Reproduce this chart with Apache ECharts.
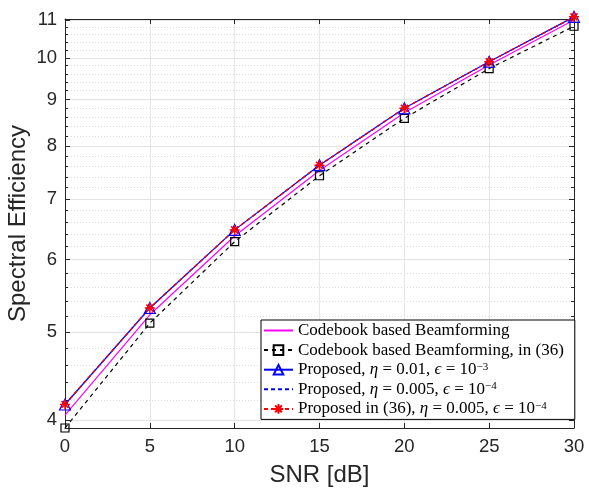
<!DOCTYPE html>
<html>
<head>
<meta charset="utf-8">
<script src="https://cdn.jsdelivr.net/npm/echarts@6/dist/echarts.min.js"></script>
<style>html,body{margin:0;padding:0;background:#fff}#c{width:589px;height:489px}</style>
</head>
<body>
<div id="c"></div>
<script>
const snr = [0, 5, 10, 15, 20, 25, 30];
const codebook = [4.05, 5.22, 6.37, 7.52, 8.70, 9.82, 11.00];
const codebook36 = [3.92, 5.11, 6.28, 7.42, 8.58, 9.73, 10.83];
const proposed1 = [4.16, 5.31, 6.47, 7.62, 8.80, 9.90, 11.09];
const proposed2 = [4.16, 5.31, 6.47, 7.62, 8.80, 9.90, 11.08];
const proposed36 = [4.16, 5.31, 6.47, 7.62, 8.80, 9.90, 11.09];
const xTicks = [0, 5, 10, 15, 20, 25, 30];
const yMajor = [4, 5, 6, 7, 8, 9, 10, 11];
const yMinor = [4.2, 4.4, 4.6, 4.8, 5.2, 5.4, 5.6, 5.8, 6.2, 6.4, 6.6, 6.8, 7.2, 7.4, 7.6, 7.8,
  8.2, 8.4, 8.6, 8.8, 9.2, 9.4, 9.6, 9.8, 10.2, 10.4, 10.6, 10.8];
const names = ['Codebook based Beamforming', 'Codebook based Beamforming, in (36)',
  'Proposed, η = 0.01, ϵ = 10^-3', 'Proposed, η = 0.005, ϵ = 10^-4',
  'Proposed in (36), η = 0.005, ϵ = 10^-4'];
const legendRich = {
  'Codebook based Beamforming': 'Codebook based Beamforming',
  'Codebook based Beamforming, in (36)': 'Codebook based Beamforming, in (36)',
  'Proposed, η = 0.01, ϵ = 10^-3': 'Proposed, {i|η} = 0.01, {i|ϵ} = 10{s|−3}',
  'Proposed, η = 0.005, ϵ = 10^-4': 'Proposed, {i|η} = 0.005, {i|ϵ} = 10{s|−4}',
  'Proposed in (36), η = 0.005, ϵ = 10^-4': 'Proposed in (36), {i|η} = 0.005, {i|ϵ} = 10{s|−4}'
};
const noMarker = [true, false, false, true, false];

const pairs = arr => snr.map((x, i) => [x, arr[i]]);
const axColor = '#262626';
const YMIN = 3.92, YMAX = 11.03;
const sans = 'Liberation Sans, Arial, sans-serif';
const serif = 'Liberation Serif, Times New Roman, serif';

const chart = echarts.init(document.getElementById('c'), null, {renderer: 'canvas'});
const baseY = {
  type: 'log', logBase: 10, min: YMIN, max: YMAX, gridIndex: 0
};
chart.setOption({
  animation: false,
  backgroundColor: '#fff',
  grid: {left: 65, right: 15, top: 19, bottom: 61, containLabel: false, outerBoundsMode: 'none'},
  xAxis: [{
    type: 'value', min: 0, max: 30, interval: 5, position: 'bottom',
    name: 'SNR [dB]', nameLocation: 'middle', nameGap: 35, nameMoveOverlap: false,
    nameTextStyle: {fontFamily: sans, fontSize: 24, color: axColor},
    axisLine: {show: true, lineStyle: {color: axColor, width: 1}},
    axisTick: {show: true, inside: true, length: 5, lineStyle: {color: axColor}},
    axisLabel: {fontFamily: sans, fontSize: 18.5, color: axColor, margin: 9},
    splitLine: {show: true, lineStyle: {color: '#e6e6e6', width: 1}}
  }, {
    type: 'value', min: 0, max: 30, interval: 5, position: 'top',
    axisLine: {show: true, lineStyle: {color: axColor, width: 1}},
    axisTick: {show: true, inside: true, length: 5, lineStyle: {color: axColor}},
    axisLabel: {show: false}, splitLine: {show: false}
  }],
  yAxis: [Object.assign({}, baseY, {
    position: 'left',
    name: 'Spectral Efficiency', nameLocation: 'middle', nameGap: 35, nameRotate: 90, nameMoveOverlap: false,
    nameTextStyle: {fontFamily: sans, fontSize: 24, color: axColor},
    axisLine: {show: true, lineStyle: {color: axColor, width: 1}},
    axisTick: {show: true, inside: true, length: 5, customValues: yMajor, lineStyle: {color: axColor}},
    axisLabel: {fontFamily: sans, fontSize: 18.5, color: axColor, margin: 8, customValues: yMajor},
    splitLine: {show: true, lineStyle: {color: '#e3e3e3', width: 1}}
  }), Object.assign({}, baseY, {
    position: 'left',
    axisLine: {show: false},
    axisTick: {show: true, inside: true, length: 3, customValues: yMinor, lineStyle: {color: axColor}},
    axisLabel: {show: false, customValues: yMinor},
    splitLine: {show: true, lineStyle: {color: '#dcdcdc', width: 1, type: [1, 2]}}
  }), Object.assign({}, baseY, {
    position: 'right',
    axisLine: {show: true, lineStyle: {color: axColor, width: 1}},
    axisTick: {show: true, inside: true, length: 5, customValues: yMajor, lineStyle: {color: axColor}},
    axisLabel: {show: false, customValues: yMajor},
    splitLine: {show: false}
  }), Object.assign({}, baseY, {
    position: 'right',
    axisLine: {show: false},
    axisTick: {show: true, inside: true, length: 3, customValues: yMinor, lineStyle: {color: axColor}},
    axisLabel: {show: false, customValues: yMinor},
    splitLine: {show: false}
  })],
  legend: {
    orient: 'vertical', left: 261, top: 320,
    backgroundColor: '#fff', borderColor: '#000', borderWidth: 1,
    padding: [2, 11, 2, 2], itemGap: 2.6, itemWidth: 29, itemHeight: 12,
    data: names.map((n, i) => noMarker[i] ? {name: n, itemStyle: {opacity: 0}} : {name: n}),
    formatter: n => legendRich[n],
    textStyle: {
      fontFamily: serif, fontSize: 17, color: '#000', lineHeight: 17,
      rich: {
        i: {fontFamily: serif, fontSize: 17, fontStyle: 'italic', lineHeight: 17},
        s: {fontFamily: serif, fontSize: 11, lineHeight: 17, verticalAlign: 'top', padding: [0, 0, 6, 0]}
      }
    },
    selectedMode: false
  },
  series: [{
    name: names[0], type: 'line', data: pairs(codebook), symbol: 'circle', showSymbol: false, clip: false,
    lineStyle: {color: '#ff00ff', width: 1.2}, itemStyle: {color: '#ff00ff'}, silent: true
  }, {
    name: names[1], type: 'line', data: pairs(codebook36), symbol: 'rect', symbolSize: 8, clip: false,
    lineStyle: {color: '#000', width: 1.2, type: [4, 4]},
    itemStyle: {color: 'rgba(255,255,255,0)', borderColor: '#000', borderWidth: 1.2}, silent: true
  }, {
    name: names[2], type: 'line', data: pairs(proposed1), symbol: 'triangle', symbolSize: 11, clip: false,
    lineStyle: {color: '#0000ff', width: 1.2},
    itemStyle: {color: 'rgba(255,255,255,0)', borderColor: '#0000ff', borderWidth: 1.2}, silent: true
  }, {
    name: names[3], type: 'line', data: pairs(proposed2), symbol: 'circle', showSymbol: false, clip: false,
    lineStyle: {color: '#0000ff', width: 1.2, type: [4, 3]}, itemStyle: {color: '#0000ff'}, silent: true
  }, {
    name: names[4], type: 'line', data: pairs(proposed36),
    symbol: 'path://M5,0L5,10M0,5L10,5M1.5,1.5L8.5,8.5M1.5,8.5L8.5,1.5', symbolSize: 10, clip: false,
    lineStyle: {color: '#ff0000', width: 1.2, type: [4, 3]},
    itemStyle: {color: '#ff0000', borderColor: '#ff0000', borderWidth: 1.5}, silent: true
  }]
});
</script>
</body>
</html>
